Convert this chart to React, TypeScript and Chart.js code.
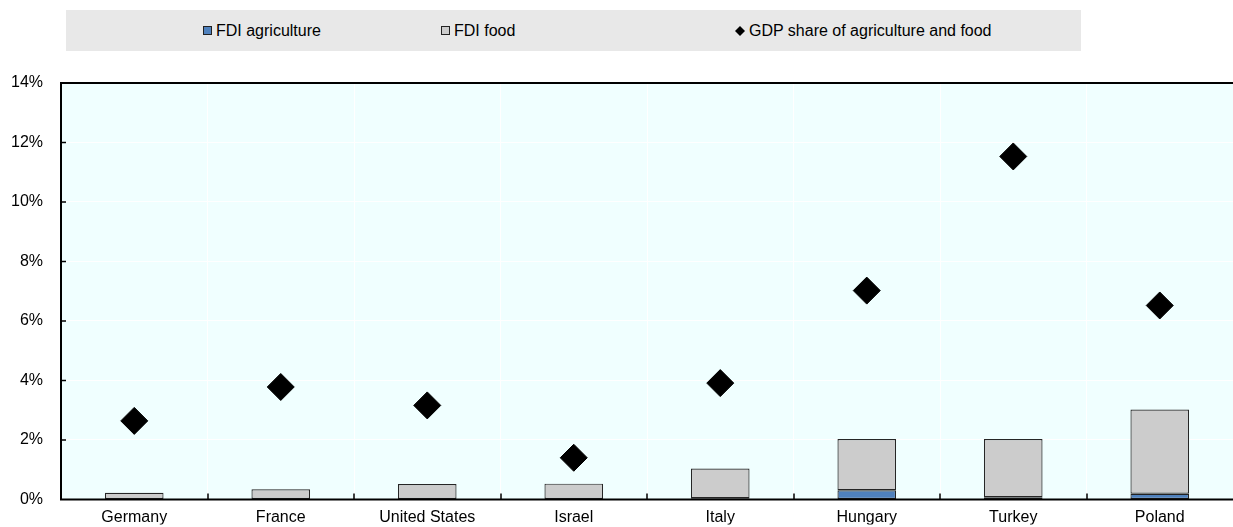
import React, { useEffect, useRef } from 'react';
import { Chart, registerables } from 'chart.js';

Chart.register(...registerables);

const categories = ['Germany', 'France', 'United States', 'Israel', 'Italy', 'Hungary', 'Turkey', 'Poland'];
const fdiAgriculture = [0, 0, 0, 0, 0.04, 0.31, 0.07, 0.19];
const fdiFood = [0.22, 0.34, 0.52, 0.53, 1.0, 1.72, 1.96, 2.83];
const gdpShare = [2.64, 3.78, 3.16, 1.4, 3.91, 7.02, 11.53, 6.52];
const yTickValues = [0, 2, 4, 6, 8, 10, 12, 14];

const FONT = "'Liberation Sans', Arial, sans-serif";

const plotFrame = {
  id: 'plotFrame',
  beforeDraw(chart: any) {
    const { ctx, chartArea } = chart;
    ctx.save();
    ctx.fillStyle = '#F0FFFF';
    ctx.fillRect(chartArea.left, chartArea.top, chartArea.right - chartArea.left, chartArea.bottom - chartArea.top);
    ctx.restore();
  },
  afterDraw(chart: any) {
    const { ctx, chartArea, scales } = chart;
    const { left, right, top, bottom } = chartArea;
    ctx.save();
    ctx.strokeStyle = '#000';
    ctx.lineWidth = 2;
    ctx.beginPath();
    ctx.moveTo(left, top);
    ctx.lineTo(right, top);
    ctx.moveTo(left, top - 1);
    ctx.lineTo(left, bottom);
    ctx.moveTo(left - 1, bottom);
    ctx.lineTo(right, bottom);
    ctx.stroke();
    ctx.lineWidth = 1.5;
    ctx.beginPath();
    yTickValues.forEach((v) => {
      if (v === 0 || v === 14) return;
      const y = scales.y.getPixelForValue(v);
      ctx.moveTo(left, y);
      ctx.lineTo(left + 5, y);
    });
    const n = categories.length;
    const w = (right - left) / n;
    for (let i = 1; i < n; i++) {
      const x = Math.round(left + w * i);
      ctx.moveTo(x, bottom);
      ctx.lineTo(x, bottom - 6);
    }
    ctx.stroke();
    ctx.restore();
  },
};

function LegendItem({ left, marker, label }: { left: number; marker: 'agri' | 'food' | 'diamond'; label: string }) {
  let m: React.ReactNode;
  if (marker === 'diamond') {
    m = (
      <svg width={10} height={10} style={{ display: 'block' }}>
        <polygon points="5,0 10,5 5,10 0,5" fill="#000" />
      </svg>
    );
  } else {
    m = (
      <div
        style={{
          width: 7,
          height: 7,
          background: marker === 'agri' ? '#4F81BD' : '#CCCCCC',
          border: '1px solid #222',
        }}
      />
    );
  }
  return (
    <div
      style={{
        position: 'absolute',
        left,
        top: 10,
        height: 41,
        display: 'flex',
        alignItems: 'center',
        fontFamily: FONT,
        fontSize: 16,
        color: '#000',
        whiteSpace: 'nowrap',
      }}
    >
      {m}
      <span style={{ marginLeft: 4 }}>{label}</span>
    </div>
  );
}

export default function App() {
  const canvasRef = useRef<HTMLCanvasElement | null>(null);

  useEffect(() => {
    document.body.style.margin = '0';
    const canvas = canvasRef.current;
    if (!canvas) return;
    const chart = new Chart(canvas, {
      type: 'bar',
      data: {
        labels: categories,
        datasets: [
          {
            type: 'line',
            label: 'GDP share of agriculture and food',
            data: gdpShare,
            showLine: false,
            stack: 'gdp',
            order: 0,
            clip: false,
            pointStyle: 'rectRot',
            pointRadius: 13.5,
            pointHoverRadius: 13.5,
            pointBackgroundColor: '#000',
            pointBorderColor: '#000',
            pointBorderWidth: 1,
            borderColor: '#000',
            backgroundColor: '#000',
          } as any,
          {
            type: 'bar',
            label: 'FDI agriculture',
            data: fdiAgriculture,
            stack: 'fdi',
            order: 1,
            backgroundColor: '#4F81BD',
            borderColor: '#222',
            borderWidth: 1.2,
            borderSkipped: false,
            categoryPercentage: 1,
            barPercentage: 0.4,
          },
          {
            type: 'bar',
            label: 'FDI food',
            data: fdiFood,
            stack: 'fdi',
            order: 1,
            backgroundColor: '#CCCCCC',
            borderColor: '#262626',
            borderWidth: 1.2,
            borderSkipped: false,
            categoryPercentage: 1,
            barPercentage: 0.4,
          },
        ],
      },
      options: {
        animation: false,
        responsive: false,
        maintainAspectRatio: false,
        layout: { autoPadding: false, padding: { top: 83, left: 0, right: 0, bottom: 0 } },
        plugins: {
          legend: { display: false },
          tooltip: { enabled: false },
        },
        scales: {
          x: {
            stacked: true,
            offset: true,
            grid: { color: '#FFFFFF', lineWidth: 1, drawTicks: false, offset: true },
            border: { display: false },
            ticks: { color: '#000', font: { family: FONT, size: 16 }, padding: 9, maxRotation: 0 },
            afterFit: (s: any) => {
              s.height = 25;
            },
          },
          y: {
            stacked: true,
            min: 0,
            max: 14,
            grid: { color: '#FFFFFF', lineWidth: 1, drawTicks: false },
            border: { display: false },
            ticks: {
              stepSize: 2,
              color: '#000',
              font: { family: FONT, size: 16 },
              padding: 18,
              callback: (v: any) => `${v}%`,
            },
            afterFit: (s: any) => {
              s.width = 61;
            },
          },
        },
      },
      plugins: [plotFrame],
    });
    return () => chart.destroy();
  }, []);

  return (
    <div style={{ position: 'relative', width: 1233, height: 527, background: '#fff' }}>
      <div style={{ position: 'absolute', left: 66, top: 10, width: 1015, height: 41, background: '#E8E8E8' }} />
      <LegendItem left={203} marker="agri" label="FDI agriculture" />
      <LegendItem left={441} marker="food" label="FDI food" />
      <LegendItem left={735} marker="diamond" label="GDP share of agriculture and food" />
      <canvas ref={canvasRef} width={1233} height={527} style={{ position: 'absolute', left: 0, top: 0, width: 1233, height: 527 }} />
    </div>
  );
}
